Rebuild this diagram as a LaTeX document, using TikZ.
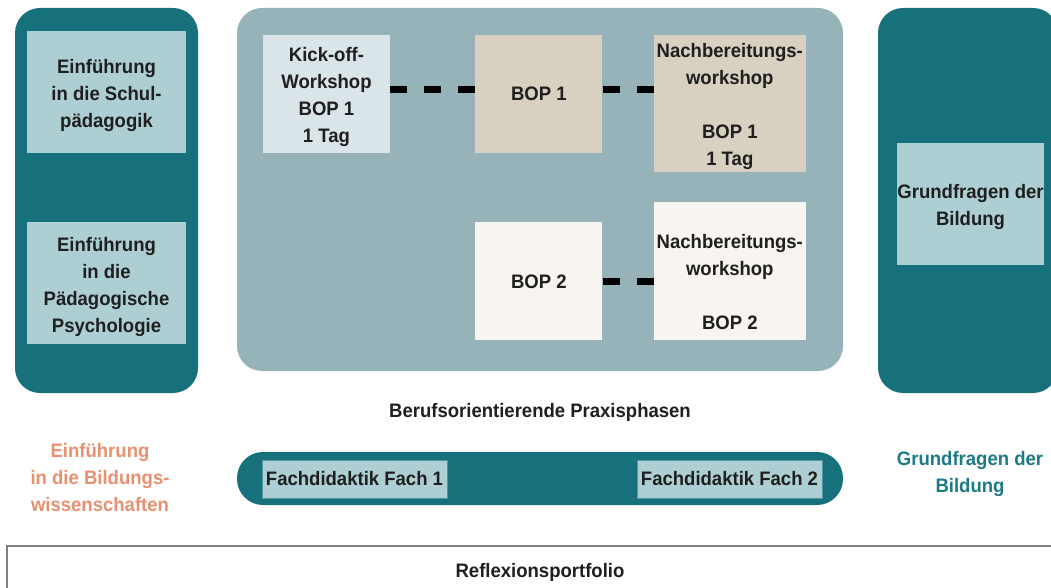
\documentclass[tikz,border=0pt]{standalone}
\usepackage{fontspec}
\setmainfont{Liberation Sans}[FakeStretch=0.95]
\usetikzlibrary{positioning}
\definecolor{panelDark}{RGB}{23,113,125}
\definecolor{panelGrey}{RGB}{151,179,186}
\definecolor{boxBlue}{RGB}{173,207,212}
\definecolor{boxKick}{RGB}{217,229,233}
\definecolor{boxTan}{RGB}{216,208,192}
\definecolor{boxCream}{RGB}{248,245,240}
\definecolor{labelOrange}{RGB}{232,144,111}
\definecolor{labelTeal}{RGB}{28,123,134}
\newcommand{\firstgap}{\rule{0pt}{21pt}}
\tikzstyle{txt}=[font=\bfseries\fontsize{19.5}{27}\selectfont, align=center, text=black!88]
\tikzstyle{panel}=[rectangle, rounded corners=25pt, fill=panelDark, inner sep=0pt]
\tikzstyle{praxis}=[rectangle, rounded corners=25pt, fill=panelGrey, inner sep=0pt]
\tikzstyle{course}=[txt, rectangle, fill=boxBlue, inner sep=0pt, minimum width=159, minimum height=122]
\tikzstyle{phase}=[txt, rectangle, inner sep=0pt, minimum width=127, minimum height=118]
\tikzstyle{workshop}=[txt, rectangle, inner sep=0pt, minimum width=152]
\tikzstyle{fach}=[txt, rectangle, fill=boxBlue, draw=panelDark!60!boxBlue, line width=0.6pt, inner sep=0pt, minimum width=185, minimum height=38]
\tikzstyle{dashLink}=[line width=7pt, dash pattern=on 17pt off 17pt, draw=black]

\begin{document}
\begin{tikzpicture}[x=1pt, y=-1pt, node distance=5mm]
  \useasboundingbox (0,0) rectangle (1051,588);
  \clip (0,0) rectangle (1051,588);
  % panels
  \node (leftPanel) [panel, minimum width=183, minimum height=385] at (106.5,200.5) {};
  \node (praxisPanel) [praxis, minimum width=606, minimum height=363] at (540,189.5) {};
  \node (rightPanel) [panel, minimum width=180, minimum height=385] at (968,200.5) {};
  \node (fachBar) [panel, rounded corners=26pt, minimum width=606, minimum height=53] at (540,478.5) {};
  % left column
  \node (schulpaed) [course] at (106.5,92) {\firstgap Einführung\\in die Schul-\\pädagogik};
  \node (psych) [course, below=69pt of schulpaed] {\firstgap Einführung\\in die\\Pädagogische\\Psychologie};
  % praxis phases
  \node (kickoff) [phase, fill=boxKick] at (326.5,94) {\firstgap Kick-off-\\Workshop\\BOP 1\\1 Tag};
  \node (bop1) [phase, fill=boxTan, right=85pt of kickoff] {BOP 1};
  \node (nach1) [workshop, fill=boxTan, minimum height=137, right=51pt of bop1.north east, anchor=north west]
    {\firstgap Nachbereitungs-\\workshop\\\\BOP 1\\1 Tag};
  \node (bop2) [phase, fill=boxCream, below=69pt of bop1] {BOP 2};
  \node (nach2) [workshop, fill=boxCream, minimum height=138, right=51pt of bop2.south east, anchor=south west]
    {\rule{0pt}{36pt}Nachbereitungs-\\workshop\\\\BOP 2};
  \coordinate (row1) at ([yshift=4pt]bop1.east);
  \draw [dashLink] ([yshift=4pt]kickoff.east) -- ([yshift=4pt]bop1.west);
  \draw [dashLink] (row1) -- (nach1.west |- row1);
  \draw [dashLink] (bop2.east) -- (nach2.west |- bop2.east);
  % right column
  \node (grundfragen) [course, minimum width=147] at (970.5,204) {\firstgap Grundfragen der\\Bildung};
  % captions
  \node (praxisLabel) [txt] at (540,412) {Berufsorientierende Praxisphasen};
  \node (bildungLabel) [txt, text=labelOrange] at (100,478) {Einführung\\in die Bildungs-\\wissenschaften};
  \node (grundLabel) [txt, text=labelTeal] at (970,471) {\firstgap Grundfragen der\\Bildung};
  % subject didactics
  \node (fach1) [fach] at (354.5,479) {Fachdidaktik Fach 1};
  \node (fach2) [fach] at (729.5,479) {Fachdidaktik Fach 2};
  % portfolio
  \node (portfolio) [rectangle, draw=black!50, line width=2pt, fill=white, minimum width=1060, minimum height=70, anchor=north west] at (6,545) {};
  \node (portfolioLabel) [txt] at (540,572) {Reflexionsportfolio};
\end{tikzpicture}
\end{document}
